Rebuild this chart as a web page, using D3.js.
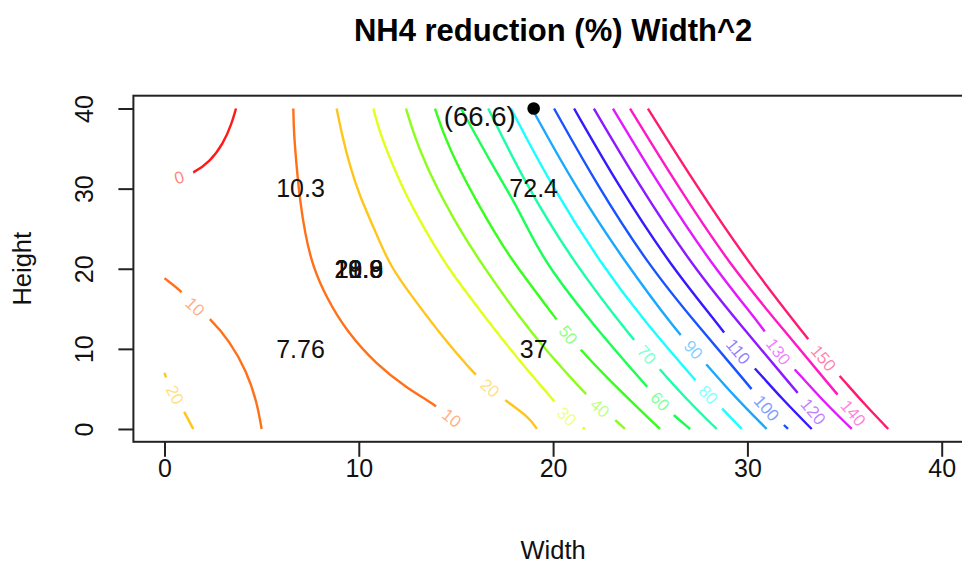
<!DOCTYPE html>
<html>
<head>
<meta charset="utf-8">
<script src="https://cdn.jsdelivr.net/npm/d3@7"></script>
<style>
  body { margin: 0; background: #fff; }
  text { font-family: "Liberation Sans", Arial, Helvetica, sans-serif; }
</style>
</head>
<body>
<div id="chart"></div>
<script>
// ---- data (Width, Height) ----
const xTicks = [0, 10, 20, 30, 40];
const yTicks = [0, 10, 20, 30, 40];

// rainbow(16), one colour per level 0..150
const levelColors = ['#FF0000','#FF6000','#FFBF00','#DFFF00','#80FF00','#20FF00','#00FF40','#00FF9F',
                     '#00FFFF','#009FFF','#0040FF','#2000FF','#8000FF','#DF00FF','#FF00BF','#FF0060'];

const c0   = [[0.76,31.4],[1.48,31.9],[2.34,33.35],[3.03,35.64],[3.46,38.13],[3.68,40]];
const c10a = [[0,18.82],[0.80,17.36],[1.57,15.28],[2.34,13.83],[3.37,10.92],[4.23,7.18],[4.75,3.44],[5.0,0]];
const c20a = [[0,7.0],[0.08,6.36],[0.54,4.27],[1.14,1.57],[1.48,0]];
const c10b = [[6.63,40],[6.66,36.88],[6.80,32.72],[6.97,28.57],[7.23,24.42],[7.63,20.26],[8.35,16.32],
              [9.38,12.16],[10.92,8.01],[12.47,5.11],[13.92,3.03],[14.78,1.37]];
const c20b = [[8.86,40],[9.12,36.88],[9.55,32.72],[10.06,28.98],[10.75,25.25],[11.61,20.26],[12.81,16.32],
              [14.35,11.34],[15.98,6.77],[16.75,5.11],[17.61,3.44],[18.81,1.37],[19.16,0]];
const c30  = [[10.75,40],[11.09,36.88],[11.78,32.72],[12.47,28.98],[13.32,25.25],[14.52,20.26],[16.41,14.24],
              [18.30,8.39],[19.93,3.86],[20.70,1.57],[21.64,0]];
const c40  = [[12.43,40],[12.81,36.88],[13.49,32.72],[14.35,28.57],[15.21,24.83],[16.41,20.26],[18.30,13.83],
              [19.83,9.26],[21.55,4.69],[22.41,2.62],[23.19,1.16],[23.70,0]];
const c50  = [[13.92,40],[14.35,36.88],[15.11,32.72],[16.03,28.57],[17.01,24.42],[17.87,21.10],[20.19,13.62],
              [20.78,11.75],[21.55,9.47],[23.42,4.8],[25.50,0]];
const c60  = [[15.26,40],[16.92,32.72],[17.95,28.57],[18.70,25.0],[19.67,20.47],[22.09,12.9],[24.82,5.31],
              [25.50,3.44],[26.27,1.57],[27.05,0]];
const c70  = [[16.66,40],[18.61,30.44],[21.13,20.47],[24.13,11.13],[24.82,9.26],[25.59,7.18],[26.93,3.54],[28.42,0]];
const c80  = [[17.83,40],[19.89,30.44],[22.50,20.47],[24.74,13.31],[27.30,6.14],[27.99,4.27],[28.76,2.40],[29.71,0]];
const c90  = [[18.91,40],[21.08,30.44],[23.79,20.47],[26.44,11.96],[27.22,9.88],[27.91,8.01],[29.37,3.96],[30.99,0]];
const c100 = [[20.05,40],[22.26,30.44],[24.90,20.47],[27.41,13.0],[30.05,5.52],[30.99,2.62],[32.09,0]];
const c110 = [[21.08,40],[23.34,30.44],[26.02,20.47],[28.59,12.79],[29.53,9.67],[30.39,7.60],[31.78,3.75],[33.31,0]];
const c120 = [[22.10,40],[24.42,30.44],[27.13,20.47],[29.72,12.75],[32.45,4.90],[33.39,2.19]];
const c130 = [[23.08,40],[25.45,30.44],[28.16,20.47],[30.82,12.59],[31.59,9.67],[32.54,7.18],[33.88,3.54],[35.37,0]];
const c140 = [[23.96,40],[26.38,30.44],[29.10,20.47],[31.73,12.75],[34.42,4.90],[35.45,1.99]];
const c150 = [[24.88,40],[27.35,30.44],[30.13,20.47],[33.02,11.54],[33.91,8.85],[34.85,6.36],[36.01,3.13],[37.25,0]];

const contourLevel  = [0, 10, 20, 10, 20, 30, 40, 50, 60, 70, 80, 90, 100, 110, 120, 130, 140, 150];
const contourLines  = [c0, c10a, c20a, c10b, c20b, c30, c40, c50, c60, c70, c80, c90, c100, c110, c120, c130, c140, c150];
// label position on each contour (one of its points)
const contourLabelAt = [[0.76,31.4],[1.57,15.28],[0.54,4.27],[14.78,1.37],[16.75,5.11],[20.70,1.57],[22.41,2.62],
                        [20.78,11.75],[25.50,3.44],[24.82,9.26],[27.99,4.27],[27.22,9.88],[30.99,2.62],[29.53,9.67],
                        [33.39,2.19],[31.59,9.67],[35.45,1.99],[33.91,8.85]];

// observed responses written at design points
const obsX    = [7, 7, 19, 19];
const obsY    = [30, 10, 30, 10];
const obsText = ['10.3', '7.76', '72.4', '37'];
// centre point replicates (overprinted)
const centreX = 10, centreY = 20;
const centreText = ['20.9', '19.8', '21.6', '18.9'];

// predicted optimum
const optX = 19, optY = 40, optText = '(66.6)';

// ---- layout ----
let W = 962, H = 565;
let plotLeft = 133.4, plotRight = 972.8, plotTop = 95.7, plotBottom = 441.8;

let svg = d3.select('#chart').append('svg')
    .attr('width', W)
    .attr('height', H)
    .style('display', 'block');

// R style 4% padding on both axes
let x = d3.scaleLinear().domain([-1.6, 41.6]).range([plotLeft, plotRight]);
let y = d3.scaleLinear().domain([-1.6, 41.6]).range([plotBottom, plotTop]);

let line = d3.line()
    .x(d => x(d[0]))
    .y(d => y(d[1]))
    .curve(d3.curveBasis);

// Contour lines
let lineGroup = svg.append('g').attr('class', 'contours');
contourLines.forEach(function(pts, i) {
    lineGroup.append('path')
        .attr('d', line(pts))
        .attr('fill', 'none')
        .attr('stroke', levelColors[contourLevel[i] / 10])
        .attr('stroke-width', 2.4)
        .attr('stroke-opacity', 0.9)
        .attr('stroke-linecap', 'butt');
});

// Contour labels with a gap in the line (like R)
let labelGroup = svg.append('g').attr('class', 'contour-labels');
contourLines.forEach(function(pts, i) {
    let lab = contourLabelAt[i];
    let k = pts.findIndex(p => p[0] === lab[0] && p[1] === lab[1]);
    let a = pts[Math.max(0, k - 1)], b = pts[Math.min(pts.length - 1, k + 1)];
    let ang = Math.atan2(y(b[1]) - y(a[1]), x(b[0]) - x(a[0])) * 180 / Math.PI;
    if (ang > 90) ang -= 180;
    if (ang < -90) ang += 180;

    let g = labelGroup.append('g')
        .attr('transform', 'translate(' + x(lab[0]) + ',' + y(lab[1]) + ') rotate(' + ang + ')');
    let rect = g.append('rect').attr('fill', '#fff');
    let t = g.append('text')
        .attr('text-anchor', 'middle')
        .attr('dy', '0.35em')
        .attr('font-size', '17px')
        .attr('fill', levelColors[contourLevel[i] / 10])
        .attr('fill-opacity', 0.5)
        .text(contourLevel[i]);
    let tw = t.node().getComputedTextLength();
    rect.attr('x', -tw / 2 - 10).attr('width', tw + 20)
        .attr('y', -6).attr('height', 12);
});

// Box
svg.append('rect')
    .attr('x', plotLeft).attr('y', plotTop)
    .attr('width', plotRight - plotLeft).attr('height', plotBottom - plotTop)
    .attr('fill', 'none')
    .attr('stroke', '#222')
    .attr('stroke-width', 2);

// X axis
let xAxis = svg.append('g')
    .attr('transform', 'translate(0,' + plotBottom + ')')
    .call(d3.axisBottom(x).tickValues(xTicks).tickSize(15).tickPadding(2));
xAxis.select('.domain').remove();
xAxis.selectAll('line').attr('stroke', '#222').attr('stroke-width', 2);
xAxis.selectAll('text')
    .attr('font-size', '25px')
    .attr('fill', '#111')
    .style('font-family', '"Liberation Sans", Arial, sans-serif');

// Y axis (labels parallel to axis)
let yAxis = svg.append('g')
    .attr('transform', 'translate(' + plotLeft + ',0)')
    .call(d3.axisLeft(y).tickValues(yTicks).tickSize(15));
yAxis.select('.domain').remove();
yAxis.selectAll('line').attr('stroke', '#222').attr('stroke-width', 2);
yAxis.selectAll('text')
    .attr('x', 0).attr('y', 0)
    .attr('dy', '0.35em')
    .attr('transform', 'translate(-49,0) rotate(-90)')
    .attr('font-size', '25px')
    .attr('fill', '#111')
    .style('text-anchor', 'middle')
    .style('font-family', '"Liberation Sans", Arial, sans-serif');

// Axis titles
svg.append('text')
    .attr('x', (plotLeft + plotRight) / 2).attr('y', 550)
    .attr('dy', '0.35em')
    .attr('text-anchor', 'middle')
    .attr('font-size', '25.5px')
    .attr('fill', '#111')
    .text('Width');

svg.append('text')
    .attr('transform', 'translate(22.5,' + ((plotTop + plotBottom) / 2) + ') rotate(-90)')
    .attr('dy', '0.35em')
    .attr('text-anchor', 'middle')
    .attr('font-size', '25.5px')
    .attr('fill', '#111')
    .text('Height');

// Title
svg.append('text')
    .attr('x', (plotLeft + plotRight) / 2).attr('y', 30)
    .attr('dy', '0.35em')
    .attr('text-anchor', 'middle')
    .attr('font-size', '31px')
    .attr('font-weight', 'bold')
    .attr('fill', '#000')
    .text('NH4 reduction (%) Width^2');

// Observed values
obsText.forEach(function(s, i) {
    svg.append('text')
        .attr('x', x(obsX[i])).attr('y', y(obsY[i]))
        .attr('dy', '0.35em')
        .attr('text-anchor', 'middle')
        .attr('font-size', '25px')
        .attr('fill', '#111')
        .text(s);
});
centreText.forEach(function(s) {
    svg.append('text')
        .attr('x', x(centreX)).attr('y', y(centreY))
        .attr('dy', '0.35em')
        .attr('text-anchor', 'middle')
        .attr('font-size', '25px')
        .attr('fill', '#111')
        .text(s);
});

// Optimum point
svg.append('circle')
    .attr('cx', x(optX)).attr('cy', y(optY))
    .attr('r', 6.3)
    .attr('fill', '#000');
svg.append('text')
    .attr('x', x(optX) - 18).attr('y', y(optY) + 8)
    .attr('dy', '0.35em')
    .attr('text-anchor', 'end')
    .attr('font-size', '27.5px')
    .attr('fill', '#111')
    .text(optText);
</script>
</body>
</html>
